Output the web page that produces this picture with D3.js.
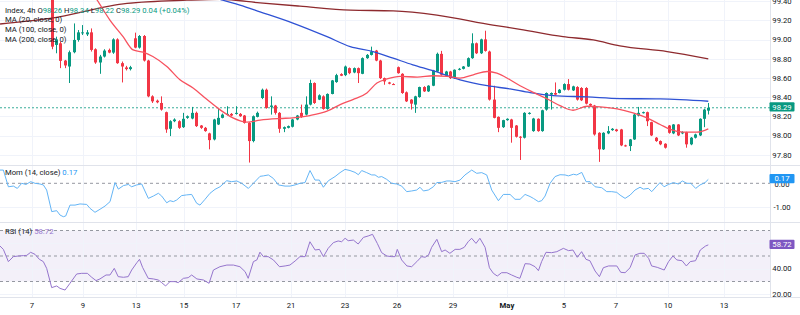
<!DOCTYPE html>
<html><head><meta charset="utf-8">
<script src="https://cdn.jsdelivr.net/npm/d3@7"></script>
<style>body{margin:0;background:#fff;overflow:hidden;} svg{display:block;font-family:Roboto,"Noto Sans",sans-serif;}</style>
</head><body><svg id="c" width="800" height="315"></svg>
<script>
// ---- candle data (4h) ----
const opens=[99.50,98.945,98.962,98.782,98.720,98.869,98.997,99.066,99.055,99.076,
98.900,98.762,98.824,98.893,98.865,99.003,98.755,98.710,98.693,99.014,
98.917,99.038,98.782,98.409,98.364,98.340,98.244,98.071,98.150,98.150,
98.088,98.185,98.178,98.237,98.105,98.081,98.023,97.960,98.116,98.185,
98.219,98.226,98.226,98.226,98.209,98.133,97.943,98.195,98.392,98.478,
98.299,98.313,98.237,98.071,98.081,98.092,98.168,98.237,98.219,98.323,
98.548,98.375,98.409,98.278,98.434,98.558,98.641,98.630,98.703,98.658,
98.703,98.644,98.807,98.841,98.886,98.782,98.599,98.554,98.537,98.713,
98.644,98.451,98.375,98.323,98.402,98.506,98.461,98.520,98.668,98.852,
98.624,98.668,98.599,98.686,98.696,98.720,98.807,98.962,98.858,99.003,
98.876,98.375,98.195,98.088,98.161,98.168,98.105,97.988,97.978,98.226,
98.047,98.175,98.047,98.271,98.427,98.444,98.444,98.478,98.537,98.471,
98.506,98.496,98.496,98.330,98.313,98.029,97.857,98.023,98.057,98.064,
98.064,97.898,97.891,97.960,98.209,98.237,98.244,98.140,97.978,97.943,
97.915,98.105,98.023,98.116,98.023,98.036,97.909,97.978,98.002,98.175,98.26];
const highs=[99.56,99.031,98.979,98.789,98.886,99.169,99.100,99.152,99.100,99.117,
98.910,98.841,98.900,98.907,99.014,99.014,98.772,98.727,98.727,99.073,
99.048,99.048,98.790,98.420,98.375,98.409,98.250,98.160,98.180,98.160,
98.237,98.210,98.299,98.250,98.110,98.090,98.030,98.175,98.288,98.230,
98.306,98.235,98.306,98.235,98.215,98.140,98.210,98.250,98.490,98.490,
98.409,98.320,98.245,98.095,98.105,98.175,98.215,98.323,98.409,98.582,
98.555,98.430,98.420,98.440,98.580,98.644,98.650,98.730,98.710,98.710,
98.710,98.815,98.850,98.927,98.893,98.790,98.605,98.560,98.545,98.720,
98.650,98.460,98.380,98.415,98.510,98.515,98.525,98.685,98.865,98.883,
98.675,98.675,98.690,98.705,98.725,98.815,99.066,98.970,99.010,99.093,
98.885,98.520,98.200,98.165,98.180,98.175,98.110,97.995,98.244,98.244,
98.185,98.180,98.270,98.450,98.450,98.554,98.485,98.545,98.589,98.520,
98.515,98.505,98.505,98.335,98.320,98.035,98.035,98.099,98.078,98.070,
98.070,97.905,97.965,98.225,98.299,98.250,98.250,98.145,97.985,97.950,
97.920,98.110,98.120,98.120,98.045,98.040,97.985,98.020,98.180,98.280,98.34];
const lows=[98.90,98.858,98.703,98.703,98.548,98.858,98.979,99.048,99.038,98.876,
98.748,98.644,98.814,98.858,98.852,98.748,98.554,98.679,98.679,98.910,
98.907,98.772,98.400,98.340,98.337,98.260,98.029,97.995,98.140,98.070,
98.080,98.175,98.170,98.090,98.070,98.040,97.857,97.950,98.110,98.180,
98.210,98.200,98.219,98.195,98.125,97.719,97.930,98.190,98.380,98.280,
98.219,98.219,98.029,98.036,98.075,98.085,98.160,98.185,98.210,98.315,
98.330,98.370,98.270,98.270,98.430,98.550,98.620,98.620,98.640,98.650,
98.548,98.640,98.800,98.835,98.775,98.590,98.530,98.535,98.528,98.645,
98.435,98.350,98.271,98.237,98.395,98.455,98.455,98.515,98.660,98.625,
98.620,98.590,98.590,98.680,98.690,98.715,98.800,98.850,98.850,98.875,
98.365,98.180,98.036,98.080,98.155,97.926,97.980,97.746,97.970,98.220,
98.040,98.040,98.040,98.260,98.271,98.420,98.440,98.470,98.470,98.465,
98.365,98.360,98.325,98.305,98.000,97.726,97.850,98.015,98.050,98.040,
97.890,97.885,97.839,97.955,98.200,98.230,98.099,97.995,97.935,97.900,
97.865,98.020,98.015,97.995,98.015,97.874,97.900,97.970,97.995,98.088,98.22];
const closes=[98.927,99.003,98.779,98.731,98.869,98.997,99.076,99.076,99.076,98.893,
98.762,98.824,98.886,98.865,99.003,98.755,98.720,98.693,98.713,98.917,
99.038,98.782,98.409,98.357,98.347,98.271,98.064,98.150,98.168,98.081,
98.175,98.202,98.237,98.099,98.081,98.047,97.953,98.168,98.185,98.219,
98.226,98.209,98.237,98.202,98.133,97.943,98.202,98.237,98.478,98.288,
98.313,98.237,98.071,98.088,98.099,98.168,98.209,98.195,98.323,98.548,
98.340,98.420,98.278,98.434,98.575,98.630,98.624,98.720,98.651,98.703,
98.651,98.807,98.841,98.876,98.782,98.599,98.565,98.541,98.534,98.651,
98.444,98.357,98.333,98.409,98.506,98.461,98.520,98.679,98.852,98.634,
98.668,98.599,98.686,98.696,98.720,98.807,98.962,98.858,99.003,98.883,
98.375,98.185,98.081,98.161,98.175,98.081,97.988,97.978,98.237,98.237,
98.178,98.047,98.264,98.444,98.444,98.427,98.478,98.537,98.478,98.513,
98.375,98.368,98.333,98.313,98.012,97.857,98.029,98.047,98.071,98.047,
97.898,97.891,97.960,98.219,98.237,98.244,98.150,98.002,97.943,97.909,
97.874,98.029,98.116,98.002,98.036,97.909,97.978,98.012,98.175,98.271,98.29];

// ---- moving averages (read at candle positions) ----
const ma20Idx=[8.8,10.4,13.3,16.3,18.6,20.9,23.1,26.3,29.3,32.3,35.5,38.4,41.4,44.6,47.6,52.2,55.1,59.0,62.9,65.9,68.8,72.0,74.3,76.6,79.6,83.5,87.1,90.3,93.3,96.3,99.5,101.7,104.7,107.0,110.0,113.2,116.1,119.1,122.3,125.3,129.2,132.8,136.0,139.0,141.3,144.2,147.4,150];
const ma20Val=[99.52,99.411,99.204,99.031,98.893,98.869,98.824,98.720,98.582,98.496,98.375,98.271,98.185,98.140,98.161,98.178,98.185,98.209,98.254,98.323,98.375,98.445,98.548,98.590,98.617,98.610,98.624,98.617,98.600,98.634,98.668,98.652,98.582,98.520,98.451,98.382,98.313,98.264,98.306,98.300,98.279,98.237,98.185,98.116,98.064,98.036,98.036,98.071];
const ma100Idx=[29.3,39.1,43.0,47.6,55.1,62.9,68.2,73.4,78.0,82.5,87.1,93.3,99.5,104.7,109.3,114.5,122.3,129.8,139.0,150];
const ma100Val=[99.556,99.411,99.360,99.290,99.173,99.031,98.927,98.876,98.807,98.738,98.676,98.582,98.520,98.486,98.448,98.417,98.403,98.386,98.382,98.358];
const ma200Idx=[-11.8,-0.4,17.2,30.9,38.5,47.6,56.7,68.2,78.0,88.0,100.8,107.0,116.8,123.7,129.8,140.6,150];
const ma200Val=[99.163,99.222,99.378,99.411,99.42,99.383,99.349,99.308,99.300,99.256,99.152,99.108,99.031,98.997,98.935,98.876,98.800];

// ---- Momentum (14, close) ----
const momIdx=[-11.81,-11.04,-9.90,-8.76,-7.85,-6.85,-5.86,-4.81,-3.81,-2.67,-1.91,-1.15,0,1.14,1.91,2.66,3.20,4.18,5.32,6.46,7.99,8.75,9.89,11.03,12.19,13.33,14.47,15.23,16.38,17.51,18.27,19.41,20.56,22.08,23.22,24.37,25.13,26.27,27.03,27.79,28.55,29.69,30.84,31.98,33.12,33.88,35.03,36.17,37.31,38.45,39.98,41.12,42.27,43.41,44.93,46.07,47.60,48.35,49.50,50.64,51.78,53.30,54.44,55.58,56.73,57.87,59.01,60.15,61.15,62.06,63.20,64.73,65.87,67.01,68.16,69.30,70.06,70.82,71.96,73.10,73.87,74.63,75.39,76.53,77.67,78.81,79.95,81.10,82.24,83.39,84.14,84.91,86.05,87.19,87.96,89.10,90.24,91.00,92.14,93.28,94.42,95.95,97.09,98.24,99.38,100.52,102.05,103.18,104.71,105.85,107.0,108.14,109.28,110.04,111.19,111.94,112.71,113.85,114.99,116.13,117.28,118.04,119.18,119.95,121.09,122.08,122.99,124.14,125.66,126.80,127.94,129.08,129.85,130.99,132.13,133.26,134.41,135.17,136.31,137.08,138.22,138.98,139.90,140.89,142.02,143.16,144.08,145.07,145.99,147.12,148.11,149.25,150];
const momVal=[0.57,0.57,-0.15,-0.12,-0.22,0.0,-0.05,0.07,0.0,-0.03,-0.07,-0.29,-1.22,-1.18,-1.37,-1.44,-1.41,-0.94,-0.94,-0.89,-0.91,-1.08,-1.25,-1.12,-0.98,-0.79,0.03,-0.25,-0.10,-0.05,-0.15,-0.07,-0.03,-0.65,-0.55,-0.43,-0.55,-0.84,-0.75,-0.79,-0.72,-0.53,-0.50,-0.48,-0.86,-0.94,-0.69,-0.43,-0.26,-0.15,0.11,0.07,0.10,0.0,-0.22,0.0,0.30,0.32,0.36,0.21,-0.07,-0.12,-0.12,-0.07,0.0,0.03,0.55,0.14,0.14,-0.17,0.11,0.29,0.46,0.60,0.55,0.47,0.37,0.55,0.46,0.36,0.36,0.26,0.29,0.17,0.0,-0.03,-0.12,-0.36,-0.33,-0.29,-0.17,-0.33,-0.29,-0.15,0.03,0.04,0.10,0.10,0.07,0.14,0.36,0.57,0.43,0.46,0.36,-0.29,-0.75,-0.48,-0.48,-0.69,-0.69,-0.48,-0.57,-0.65,-0.79,-0.75,-0.55,0.0,0.29,0.37,0.36,0.32,0.39,0.36,0.47,0.07,0.07,-0.15,-0.19,-0.36,-0.36,-0.39,-0.51,-0.65,-0.51,-0.29,-0.17,-0.25,-0.22,-0.36,-0.12,0.03,-0.15,-0.05,0.03,-0.03,0.10,0.0,0.0,-0.22,-0.07,0.03,0.17];

// ---- RSI (14) ----
const rsiIdx=[-11.81,-11.04,-9.90,-8.76,-7.62,-6.47,-5.71,-4.81,-3.81,-2.82,-1.91,-1.15,0,1.14,1.91,3.05,4.18,5.71,6.85,8.14,9.14,10.13,11.02,12.41,13.31,14.30,15.19,16.39,17.48,18.27,19.46,20.06,20.76,22.05,23.24,24.33,25.13,26.02,27.01,28.20,28.90,30.09,31.18,31.98,33.17,34.66,35.95,36.94,38.43,40.02,41.51,43.0,44.19,44.89,46.08,46.87,47.57,48.36,49.46,50.65,52.04,53.33,54.42,55.61,56.71,57.90,58.99,60.18,61.17,62.07,63.16,64.35,65.44,66.24,67.03,67.73,68.92,70.01,71.21,72.30,73.29,74.38,75.38,76.57,77.66,78.45,78.95,79.94,81.14,82.23,83.42,84.51,85.31,86.10,86.80,87.99,89.08,89.88,90.97,92.16,93.25,94.24,95.14,95.93,96.93,97.82,99.01,100.0,100.90,101.79,102.78,103.98,105.07,106.26,106.96,108.15,109.24,110.43,111.19,111.92,112.92,114.21,115.40,116.89,118.08,119.07,120.07,121.06,122.05,122.95,124.14,125.13,126.02,127.22,129.10,130.0,130.99,132.13,133.27,134.37,135.36,136.36,137.05,138.34,139.93,140.92,141.91,142.81,144.0,144.99,145.88,147.08,148.17,149.36,150];
const rsiVal=[57.8,55.2,45.6,49.5,50.0,50.3,50.5,52.9,51.3,47.4,45.6,40.3,25.2,26.5,24.6,23.3,28.6,35.9,36.4,36.4,33.3,30.7,32.0,35.1,35.1,40.3,33.8,33.3,33.8,39.0,44.8,47.4,41.1,32.5,32.0,31.2,29.1,26.5,29.9,29.9,29.1,32.5,33.0,35.1,32.0,31.2,28.6,39.0,41.6,42.9,42.9,41.6,37.7,32.5,45.6,46.9,53.0,49.5,49.5,46.9,41.6,42.2,42.9,46.1,49.5,49.5,61.2,54.7,55.2,49.5,56.0,60.5,61.8,61.2,63.9,62.0,62.5,59.4,64.6,65.7,67.0,59.9,52.6,50.0,49.5,49.5,55.2,46.9,42.2,41.6,45.6,49.5,49.0,50.8,56.8,63.1,53.4,54.7,52.1,55.2,55.2,56.8,61.2,63.9,59.9,63.9,56.8,40.8,36.4,34.3,36.9,36.9,35.1,33.3,32.5,44.0,43.7,41.6,38.5,45.6,52.9,52.6,53.4,56.0,54.2,54.7,49.0,53.4,47.4,46.3,38.2,33.8,40.8,42.2,42.2,37.2,36.9,40.8,50.8,52.1,52.1,48.2,42.2,41.1,39.0,45.6,50.0,46.9,46.3,42.2,45.6,46.3,54.7,57.8,58.72];

// ---- axis labels ----
const dateLabels=["7","9","13","15","17","21","23","26","29","May","5","7","10","13"];
const dateIdx=[-4.5,7.15,19.3,30.2,42.1,54.7,67.0,78.9,91.7,104.0,117.0,128.9,140.8,153.6];
const priceTicks=[97.8,98.0,98.2,98.4,98.6,98.8,99.0,99.2,99.4];
const momTicks=[-1,0];
const rsiTicks=[20,40];
const lastPrice=98.29, lastMom=0.17, lastRsi=58.72;

// ---- layout ----
const svg=d3.select("#c");
const W=770;
const panes={main:[0,165],mom:[165,222],rsi:[222,297]};
const UP="#089981", DN="#f23645", GRID="#f0f3fa", SEP="#e0e3eb", TXT="#131722";
const FS="7.7px";

const x=d3.scaleLinear().domain([0,150]).range([51.7,708.3]);
const y=d3.scaleLinear().domain([98,99]).range([135.6,39.65]);
const ym=d3.scaleLinear().domain([-1,0]).range([206.5,183.3]);
const yr=d3.scaleLinear().domain([30,70]).range([281.5,230.5]);

const defs=svg.append("defs");
Object.entries(panes).forEach(([k,[a,b]])=>{
  defs.append("clipPath").attr("id","clip-"+k).append("rect").attr("x",0).attr("y",a).attr("width",W).attr("height",b-a);
});

svg.append("rect").attr("width",800).attr("height",315).attr("fill","#fff");

// RSI band
svg.append("rect").attr("x",0).attr("width",W).attr("y",yr(70)).attr("height",yr(30)-yr(70)).attr("fill","rgba(126,87,194,0.09)");

// vertical grid
svg.append("g").selectAll("line").data(dateIdx).join("line")
  .attr("x1",d=>Math.round(x(d))+0.5).attr("x2",d=>Math.round(x(d))+0.5).attr("y1",0).attr("y2",297)
  .attr("stroke",GRID).attr("stroke-width",1).attr("shape-rendering","crispEdges");
// horizontal grid
const hg=svg.append("g").attr("stroke",GRID).attr("shape-rendering","crispEdges");
priceTicks.forEach(t=>{const yy=Math.round(y(t))+0.5; if(yy<165) hg.append("line").attr("x1",0).attr("x2",W).attr("y1",yy).attr("y2",yy);});
[-1].forEach(t=>{const yy=Math.round(ym(t))+0.5; hg.append("line").attr("x1",0).attr("x2",W).attr("y1",yy).attr("y2",yy);});
[20,40,60].forEach(t=>{const yy=Math.round(yr(t))+0.5; hg.append("line").attr("x1",0).attr("x2",W).attr("y1",yy).attr("y2",yy);});

// dashed reference lines
const dl=svg.append("g").attr("stroke","#9598a1").attr("stroke-dasharray","3,3").attr("stroke-width",1);
dl.append("line").attr("x1",0).attr("x2",W).attr("y1",ym(0)).attr("y2",ym(0));
[70,50,30].forEach(t=>dl.append("line").attr("x1",0).attr("x2",W).attr("y1",yr(t)).attr("y2",yr(t)));
svg.append("line").attr("x1",0).attr("x2",W).attr("y1",y(lastPrice)).attr("y2",y(lastPrice))
  .attr("stroke",UP).attr("stroke-width",1).attr("stroke-dasharray","2,2").attr("opacity",0.8);

// pane separators
const sp=svg.append("g").attr("stroke",SEP).attr("shape-rendering","crispEdges");
[165,222,297].forEach(v=>sp.append("line").attr("x1",0).attr("x2",800).attr("y1",v+0.5).attr("y2",v+0.5));
sp.append("line").attr("x1",W+0.5).attr("x2",W+0.5).attr("y1",0).attr("y2",297);

// candles
const candles=d3.range(opens.length).map(i=>({i,o:opens[i],h:highs[i],l:lows[i],c:closes[i]}));
const cg=svg.append("g").attr("clip-path","url(#clip-main)");
cg.selectAll("line.w").data(candles).join("line").attr("class","w")
  .attr("x1",d=>Math.round(x(d.i))+0.5).attr("x2",d=>Math.round(x(d.i))+0.5)
  .attr("y1",d=>y(d.h)).attr("y2",d=>y(d.l))
  .attr("stroke",d=>d.c>=d.o?UP:DN).attr("stroke-width",1);
cg.selectAll("rect.b").data(candles).join("rect").attr("class","b")
  .attr("x",d=>Math.round(x(d.i))-1).attr("width",3)
  .attr("y",d=>y(Math.max(d.o,d.c))).attr("height",d=>Math.max(1,Math.abs(y(d.o)-y(d.c))))
  .attr("fill",d=>d.c>=d.o?UP:DN);

// MAs
const mg=svg.append("g").attr("clip-path","url(#clip-main)").attr("fill","none");
function maLine(idx,val,color){
  const line=d3.line().x(d=>x(d[0])).y(d=>y(d[1])).curve(d3.curveMonotoneX);
  mg.append("path").attr("d",line(idx.map((v,k)=>[v,val[k]]))).attr("stroke",color).attr("stroke-width",1.3);
}
maLine(ma200Idx,ma200Val,"#8e2a2e");
maLine(ma100Idx,ma100Val,"#2f52d4");
maLine(ma20Idx,ma20Val,"#f7525f");

// momentum
svg.append("path").attr("clip-path","url(#clip-mom)").attr("fill","none").attr("stroke","#64b5f6").attr("stroke-width",1)
  .attr("d",d3.line().x(d=>x(d[0])).y(d=>ym(d[1]))(momIdx.map((v,k)=>[v,momVal[k]])));
// RSI
svg.append("path").attr("clip-path","url(#clip-rsi)").attr("fill","none").attr("stroke","#9575cd").attr("stroke-width",1)
  .attr("d",d3.line().x(d=>x(d[0])).y(d=>yr(d[1]))(rsiIdx.map((v,k)=>[v,rsiVal[k]])));

// right axis labels
const ax=svg.append("g").attr("font-size",FS).attr("fill",TXT).attr("text-anchor","middle");
priceTicks.forEach(t=>ax.append("text").attr("x",782).attr("y",y(t)+2.8).text(t.toFixed(2)));
momTicks.forEach(t=>ax.append("text").attr("x",782).attr("y",ym(t)+3.2).text(t.toFixed(2)));
rsiTicks.forEach(t=>ax.append("text").attr("x",782).attr("y",yr(t)+2.6).text(t.toFixed(2)));

function tag(yy,txt,bg){
  svg.append("rect").attr("x",769.5).attr("y",yy-4.6).attr("width",25).attr("height",9.2).attr("rx",1).attr("fill",bg);
  svg.append("text").attr("x",782).attr("y",yy+2.8).attr("text-anchor","middle").attr("font-size",FS).attr("fill","#fff").text(txt);
}
tag(y(lastPrice)-0.8,lastPrice.toFixed(2),UP);
tag(ym(lastMom)-0.8,lastMom.toFixed(2),"#2196f3");
tag(yr(lastRsi)-0.5,lastRsi.toFixed(2),"#7e57c2");

// time axis
const tx=svg.append("g").attr("font-size",FS).attr("fill",TXT).attr("text-anchor","middle");
dateLabels.forEach((t,k)=>tx.append("text").attr("x",x(dateIdx[k])).attr("y",307.5).attr("font-weight",t==="May"?"bold":"normal").text(t));

// legends
const lg=svg.append("g").attr("font-size",FS).attr("fill",TXT);
const t0=lg.append("text").attr("x",5).attr("y",12.8);
t0.append("tspan").text("Index, 4h  ");
[["O","98.26"],["H","98.34"],["L","98.22"],["C","98.29"]].forEach(([a,b])=>{
  t0.append("tspan").text(a); t0.append("tspan").attr("fill",UP).text(b+" ");
});
t0.append("tspan").attr("fill",UP).text("0.04 (+0.04%)");
["MA (20, close, 0)","MA (100, close, 0)","MA (200, close, 0)"].forEach((s,k)=>lg.append("text").attr("x",5).attr("y",22.3+k*9.9).text(s));
const t1=lg.append("text").attr("x",5).attr("y",175.3);
t1.append("tspan").text("Mom (14, close)  "); t1.append("tspan").attr("fill","#2196f3").text(lastMom.toFixed(2));
const t2=lg.append("text").attr("x",5).attr("y",234.4);
t2.append("tspan").text("RSI (14)  "); t2.append("tspan").attr("fill","#9575cd").text(lastRsi.toFixed(2));
</script></body></html>
